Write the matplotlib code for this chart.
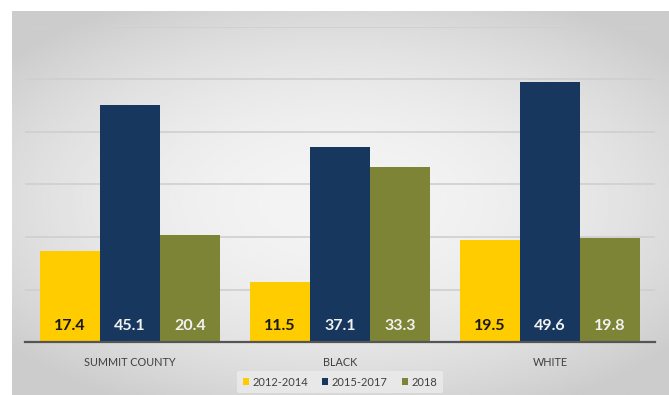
import numpy as np
import matplotlib
matplotlib.use("Agg")
import matplotlib.pyplot as plt

plt.rcParams["font.family"] = ["Lato", "DejaVu Sans"]

categories = ["SUMMIT COUNTY", "BLACK", "WHITE"]
series = ["2012-2014", "2015-2017", "2018"]
v_2012_2014 = [17.4, 11.5, 19.5]
v_2015_2017 = [45.1, 37.1, 49.6]
v_2018 = [20.4, 33.3, 19.8]

colors = ["#FFCC00", "#17375E", "#7E8435"]
label_colors = ["#1a1a1a", "#f2f2f2", "#f2f2f2"]

W, H = 669, 395
fig = plt.figure(figsize=(W / 100, H / 100), dpi=100)
fig.patch.set_facecolor("white")

# soft grey panel with a lighter centre
bg = fig.add_axes([12 / W, 0, 1 - 12 / W, 1 - 11 / H])
yy, xx = np.mgrid[-1:1:200j, -1:1:300j]
r = np.sqrt((xx / 1.15) ** 2 + (yy / 1.05) ** 2)
shade = np.clip(0.955 - 0.12 * r ** 2, 0.80, 0.96)
bg.imshow(shade, cmap="gray", vmin=0, vmax=1, aspect="auto", extent=[0, 1, 0, 1])
bg.set_axis_off()

ax = fig.add_axes([25 / W, 1 - 342 / H, (655 - 25) / W, (342 - 27) / H])
ax.set_facecolor("none")

x = np.arange(len(categories))
bw = 0.286
for i, (vals, c, lc) in enumerate(zip([v_2012_2014, v_2015_2017, v_2018], colors, label_colors)):
    pos = x + (i - 1) * bw
    ax.bar(pos, vals, width=bw, color=c, label=series[i], zorder=3)
    for p, v in zip(pos, vals):
        ax.text(p, 1.7, f"{v:.1f}", ha="center", va="bottom", color=lc,
                fontsize=11.5, fontweight="bold", zorder=4)

ax.set_xlim(-0.5, 2.5)
ax.set_ylim(0, 60)
ax.set_yticks(np.arange(10, 61, 10))
ax.yaxis.grid(True, color="#cfcfcf", lw=1.2)
ax.tick_params(left=False, labelleft=False, bottom=False)
for s in ["left", "right", "top"]:
    ax.spines[s].set_visible(False)
ax.spines["bottom"].set_color("#555555")
ax.spines["bottom"].set_linewidth(1.6)
ax.spines["bottom"].set_zorder(5)
ax.set_xticks(x)
ax.set_xticklabels(categories, fontsize=7.8, color="#404040")
ax.tick_params(axis="x", pad=7)

leg = ax.legend(loc="upper center", bbox_to_anchor=(0.5, -0.075), ncol=3, frameon=True,
                fontsize=8, handlelength=0.55, handleheight=0.55, handletextpad=0.3,
                columnspacing=1.3, borderpad=0.5)
leg.get_frame().set_facecolor("#ececec")
leg.get_frame().set_edgecolor("none")
leg.get_frame().set_alpha(0.8)
for t in leg.get_texts():
    t.set_color("#404040")

fig.savefig("out.png", dpi=100)
